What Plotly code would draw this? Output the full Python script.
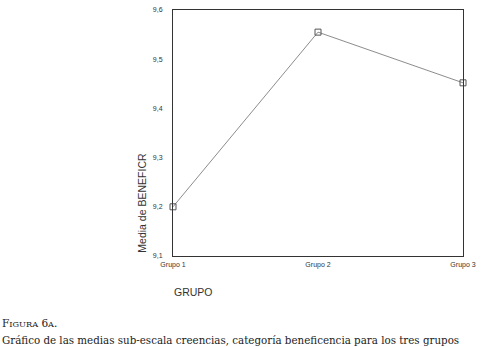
import plotly.graph_objects as go

grupos = ["Grupo 1", "Grupo 2", "Grupo 3"]
medias = [9.20, 9.555, 9.452]
y_ticks = [9.1, 9.2, 9.3, 9.4, 9.5, 9.6]
y_ticklabels = ["9,1", "9,2", "9,3", "9,4", "9,5", "9,6"]

fig = go.Figure()
fig.add_trace(go.Scatter(
    x=grupos, y=medias, mode="lines+markers",
    line=dict(color="#8c8c8c", width=1),
    marker=dict(symbol="square-open", size=6, color="#555555", line=dict(width=1)),
    cliponaxis=False, showlegend=False,
))

serif = "DejaVu Serif, Liberation Serif, serif"
fig.update_layout(
    width=481, height=347,
    margin=dict(l=173, r=18, t=10, b=91),
    paper_bgcolor="white", plot_bgcolor="white",
    font=dict(family="Liberation Sans, Arial, sans-serif", color="#333333"),
    xaxis=dict(
        type="category", range=[0, 2], showgrid=False, zeroline=False,
        showline=True, linecolor="#333333", linewidth=1, mirror=True,
        ticks="", tickfont=dict(size=7, color="#333333"), ticklabelstandoff=2, automargin=False,
    ),
    yaxis=dict(
        range=[9.1, 9.6], tickvals=y_ticks, ticktext=y_ticklabels,
        showgrid=False, zeroline=False,
        showline=True, linecolor="#333333", linewidth=1, mirror=True,
        ticks="", tickfont=dict(size=7, color="#333333"), ticklabelstandoff=8, automargin=False,
    ),
    annotations=[
        dict(text="Media de BENEFICR", textangle=-90, xref="paper", yref="paper",
             x=-0.105, y=0.215, xanchor="center", yanchor="middle",
             showarrow=False, font=dict(size=10.5, color="#333333")),
        dict(text="GRUPO", xref="paper", yref="paper", x=-0.005, y=-0.145,
             xanchor="left", yanchor="middle", showarrow=False,
             font=dict(size=10.5, color="#333333")),
        dict(text="F<span style='font-size:8.2px'>IGURA</span> 6<span style='font-size:8.2px'>A</span>.",
             xref="paper", yref="paper", x=-0.595, y=-0.272,
             xanchor="left", yanchor="middle", showarrow=False,
             font=dict(size=10.5, family=serif, color="#222222")),
        dict(text="Gráfico de las medias sub-escala creencias, categoría beneficencia para los tres grupos",
             xref="paper", yref="paper", x=-0.595, y=-0.34,
             xanchor="left", yanchor="middle", showarrow=False,
             font=dict(size=10.3, family=serif, color="#222222")),
    ],
)

fig.write_html(
    "out.html",
    config={"displayModeBar": False},
    post_script="document.body.style.margin='0';document.body.style.overflow='hidden';",
)
